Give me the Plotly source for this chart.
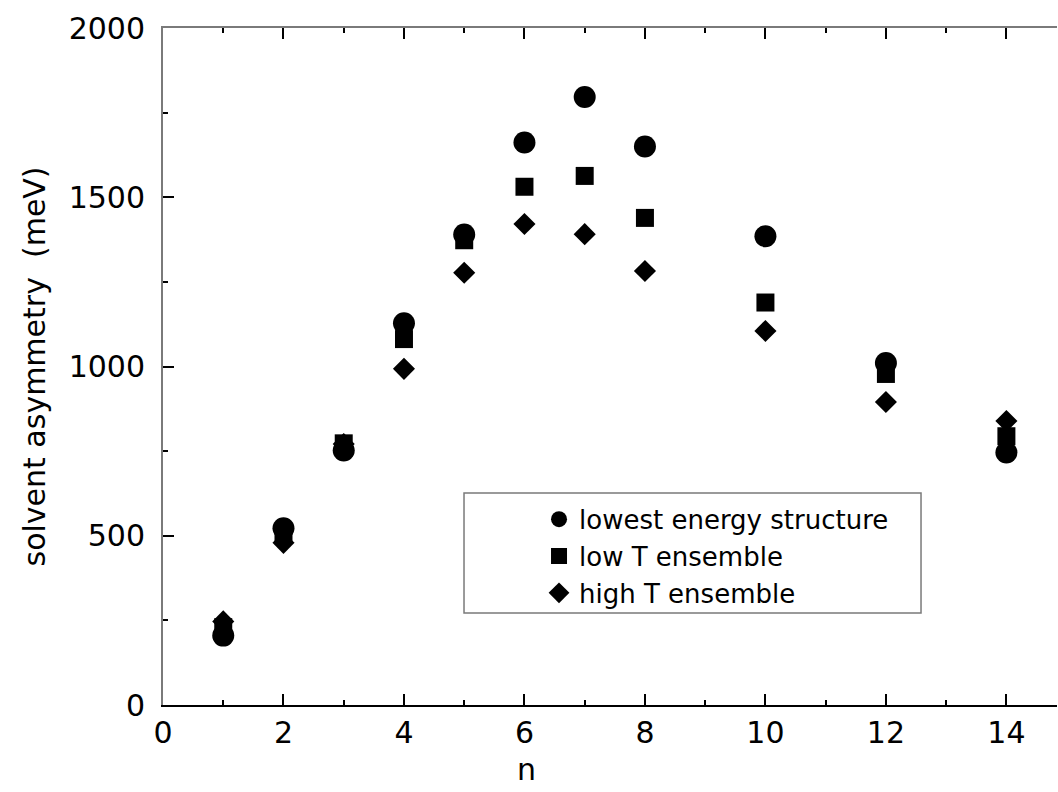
import plotly.graph_objects as go

# cluster size n and solvent asymmetry (meV) for the three data sets
n = [1, 2, 3, 4, 5, 6, 7, 8, 10, 12, 14]
lowest_energy = [205, 522, 752, 1128, 1390, 1662, 1796, 1650, 1385, 1010, 746]
low_t = [230, 502, 773, 1081, 1373, 1531, 1563, 1439, 1189, 978, 794]
high_t = [247, 479, 771, 993, 1277, 1421, 1391, 1282, 1105, 895, 839]

series_names = ["lowest energy structure", "low T ensemble", "high T ensemble"]
x_ticks = [0, 2, 4, 6, 8, 10, 12, 14]
y_ticks = [0, 500, 1000, 1500, 2000]

FONT = "DejaVu Sans, Arial, sans-serif"
GRAY = "#7a7a7a"

fig = go.Figure()
for name, vals, sym, size in [
    (series_names[0], lowest_energy, "circle", 22),
    (series_names[1], low_t, "square", 18),
    (series_names[2], high_t, "diamond", 17),
]:
    fig.add_trace(go.Scatter(
        x=n, y=vals, mode="markers", name=name,
        marker=dict(symbol=sym, size=size, color="black", line=dict(width=0)),
    ))

# empty trace that carries the top frame axis
fig.add_trace(go.Scatter(x=[], y=[], xaxis="x2", showlegend=False, hoverinfo="skip"))

x_range = [0, 14.84]
tick_common = dict(ticks="inside", ticklen=11, tickwidth=1.5, tickcolor="black",
                   showgrid=False, zeroline=False, linewidth=2)

fig.update_layout(
    width=1058, height=792,
    margin=dict(l=163, r=1, t=28, b=87),
    paper_bgcolor="white", plot_bgcolor="white",
    font=dict(family=FONT, size=30, color="black"),
    xaxis=dict(range=x_range, tickvals=x_ticks, linecolor="black",
               minor=dict(ticks="inside", ticklen=5, dtick=1, tick0=0, tickcolor="black", tickwidth=1.5),
               ticklabelstandoff=0, **tick_common),
    xaxis2=dict(range=x_range, overlaying="x", side="top", anchor="y", tickvals=x_ticks,
                showticklabels=False, linecolor=GRAY,
                minor=dict(ticks="inside", ticklen=5, dtick=1, tick0=0, tickcolor="black", tickwidth=1.5),
                **tick_common),
    yaxis=dict(range=[0, 2000], tickvals=y_ticks, linecolor=GRAY,
               minor=dict(ticks="inside", ticklen=5, dtick=250, tick0=0, tickcolor="black", tickwidth=1.5),
               ticklabelstandoff=10, **tick_common),
    showlegend=True,
    legend=dict(x=0.4206, y=0.309, xanchor="left", yanchor="top",
                bgcolor="rgba(0,0,0,0)", borderwidth=0,
                font=dict(family=FONT, size=26, color="black"),
                tracegroupgap=0, itemsizing="trace"),
)

# legend frame
fig.add_shape(type="rect", xref="paper", yref="paper",
              x0=0.3367, x1=0.8479, y0=0.1359, y1=0.3131,
              line=dict(color=GRAY, width=1.5), fillcolor="rgba(0,0,0,0)", layer="below")

# axis titles
fig.add_annotation(text="n", xref="paper", yref="paper", x=0.407, y=-0.095,
                   xanchor="center", yanchor="middle", showarrow=False,
                   font=dict(family=FONT, size=30, color="black"))
fig.add_annotation(text="solvent asymmetry  (meV)", xref="paper", yref="paper",
                   x=-0.1432, y=0.5, xanchor="center", yanchor="middle", textangle=-90,
                   showarrow=False, font=dict(family=FONT, size=30, color="black"))

fig.write_html("out.html")
